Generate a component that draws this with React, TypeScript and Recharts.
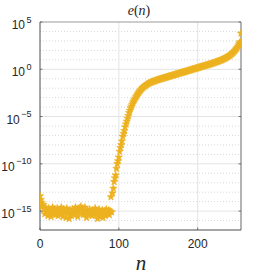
import React from "react";
import { ScatterChart, Scatter, XAxis, YAxis, ReferenceLine } from "recharts";

// log10 of e(n) for n = 0..255
const E_LOG: number[] = [
  -13.4, -13.8, -14.1, -14.5, -14.3, -14.8, -15.3, -14.6, -15.1, -14.9,
  -15.5, -14.7, -15.2, -14.9, -15.6, -15.0, -14.6, -15.3, -15.1, -14.8,
  -15.4, -15.0, -14.7, -15.5, -15.2, -14.9, -15.3, -14.6, -15.1, -15.6,
  -14.8, -15.2, -15.0, -15.7, -14.7, -15.3, -15.1, -15.8, -14.9, -15.2,
  -15.5, -14.8, -15.0, -15.4, -15.1, -14.6, -15.3, -14.9, -15.6, -15.0,
  -14.7, -15.2, -14.5, -15.1, -14.8, -15.4, -15.0, -14.6, -15.3, -15.7,
  -14.9, -15.1, -15.4, -14.8, -15.2, -15.0, -15.5, -14.9, -15.3, -15.1,
  -14.7, -15.4, -15.0, -15.8, -15.2, -14.8, -15.6, -15.1, -15.3, -14.9,
  -15.7, -15.2, -15.0, -15.5, -14.8, -15.3, -15.1, -14.9, -15.4, -15.0,
  -13.5, -15.1, -13.1, -12.6, -11.9, -11.5, -11.2, -10.5, -10.0, -9.7,
  -9.3, -8.7, -8.3, -8.0, -7.6, -7.1, -6.8, -6.5, -6.1, -5.8,
  -5.5, -5.2, -4.9, -4.6, -4.35, -4.1, -3.9, -3.7, -3.5, -3.35,
  -3.2, -3.05, -2.9, -2.75, -2.62, -2.5, -2.38, -2.27, -2.16, -2.06,
  -1.97, -1.89, -1.82, -1.75, -1.69, -1.63, -1.58, -1.53, -1.48, -1.44,
  -1.40, -1.36, -1.33, -1.30, -1.27, -1.24, -1.21, -1.18, -1.15, -1.12,
  -1.09, -1.07, -1.04, -1.02, -0.99, -0.97, -0.94, -0.92, -0.89, -0.87,
  -0.84, -0.82, -0.79, -0.77, -0.74, -0.72, -0.69, -0.67, -0.64, -0.62,
  -0.59, -0.57, -0.54, -0.52, -0.49, -0.47, -0.44, -0.42, -0.39, -0.37,
  -0.34, -0.32, -0.29, -0.27, -0.24, -0.22, -0.19, -0.17, -0.14, -0.12,
  -0.09, -0.07, -0.04, -0.02, 0.01, 0.03, 0.06, 0.08, 0.11, 0.13,
  0.16, 0.18, 0.21, 0.23, 0.26, 0.28, 0.31, 0.33, 0.36, 0.38,
  0.41, 0.43, 0.46, 0.48, 0.51, 0.53, 0.56, 0.59, 0.61, 0.64,
  0.67, 0.70, 0.73, 0.76, 0.79, 0.82, 0.85, 0.88, 0.91, 0.95,
  0.98, 1.02, 1.06, 1.10, 1.14, 1.18, 1.23, 1.28, 1.33, 1.38,
  1.44, 1.50, 1.56, 1.63, 1.70, 1.78, 1.86, 1.95, 2.05, 2.16,
  2.28, 2.42, 2.58, 2.77, 2.9, 3.8,
];

const X_TICKS = [0, 100, 200];
const Y_TICK_EXP = [-15, -10, -5, 0, 5];
const Y_MINOR_EXP = [-16, -14, -13, -12, -11, -9, -8, -7, -6, -4, -3, -2, -1, 1, 2, 3, 4];
const X_DOMAIN: [number, number] = [0, 255];
const Y_DOMAIN: [number, number] = [1e-17, 1e5];

const data = E_LOG.map((v, i) => ({ n: i, e: Math.pow(10, v) }));

const COLOR = "#EDB120";
const SANS = "'Liberation Sans', Arial, Helvetica, sans-serif";
const SERIF = "'Liberation Serif', 'Times New Roman', serif";

const StarShape = (props: any) => {
  const { cx, cy } = props;
  if (cx == null || cy == null) return null;
  const R = 3.9;
  const r = 1.6;
  const pts: string[] = [];
  for (let k = 0; k < 10; k++) {
    const a = -Math.PI / 2 + (k * Math.PI) / 5;
    const rad = k % 2 === 0 ? R : r;
    pts.push(`${(cx + rad * Math.cos(a)).toFixed(2)},${(cy + rad * Math.sin(a)).toFixed(2)}`);
  }
  return <polygon points={pts.join(" ")} fill={COLOR} stroke={COLOR} strokeWidth={0.6} />;
};

const YTick = (props: any) => {
  const { y, payload } = props;
  const exp = Math.round(Math.log10(payload.value));
  return (
    <g>
      <line x1={40} x2={42.5} y1={y} y2={y} stroke="#555" strokeWidth={0.8} />
      <line x1={238.5} x2={241} y1={y} y2={y} stroke="#555" strokeWidth={0.8} />
      <text x={31.5} y={y + 7} textAnchor="end" fontFamily={SANS} fontSize={12} fill="#262626">
        10
        <tspan dx={1.5} dy={-6.5} fontSize={9}>
          {exp < 0 ? "\u2212" + Math.abs(exp) : String(exp)}
        </tspan>
      </text>
    </g>
  );
};

const XTick = (props: any) => {
  const { x, payload } = props;
  return (
    <g>
      <line x1={x} x2={x} y1={230} y2={227.5} stroke="#555" strokeWidth={0.8} />
      <text x={x} y={248} textAnchor="middle" fontFamily={SANS} fontSize={12} fill="#262626">
        {payload.value}
      </text>
    </g>
  );
};

export default function App() {
  return (
    <div style={{ position: "absolute", left: 0, top: 0, width: 266, height: 277, background: "#fff" }}>
      <ScatterChart width={266} height={277} margin={{ top: 22, right: 25, bottom: 0, left: 0 }}>
        <XAxis
          type="number"
          dataKey="n"
          domain={X_DOMAIN}
          ticks={X_TICKS}
          height={47}
          tickLine={false}
          axisLine={{ stroke: "#4d4d4d", strokeWidth: 1 }}
          tick={<XTick />}
          allowDataOverflow
        />
        <YAxis
          type="number"
          dataKey="e"
          scale="log"
          domain={Y_DOMAIN}
          ticks={Y_TICK_EXP.map((e) => Math.pow(10, e))}
          width={40}
          tickLine={false}
          axisLine={{ stroke: "#4d4d4d", strokeWidth: 1 }}
          tick={<YTick />}
          allowDataOverflow
        />
        {Y_MINOR_EXP.map((e) => (
          <ReferenceLine key={"m" + e} y={Math.pow(10, e)} stroke="#cfcfcf" strokeDasharray="1 2" strokeWidth={0.8} ifOverflow="hidden" />
        ))}
        {Y_TICK_EXP.filter((e) => e < 5).map((e) => (
          <ReferenceLine key={"M" + e} y={Math.pow(10, e)} stroke="#e3e3e3" strokeWidth={1} />
        ))}
        {X_TICKS.filter((t) => t > 0).map((t) => (
          <ReferenceLine key={"x" + t} x={t} stroke="#e3e3e3" strokeWidth={1} />
        ))}
        <ReferenceLine y={1e5} stroke="#9a9a9a" strokeWidth={1} />
        <ReferenceLine x={255} stroke="#a0a0a0" strokeWidth={1.6} />
        <Scatter data={data} shape={<StarShape />} isAnimationActive={false} />
        <text x={139} y={15} textAnchor="middle" fontFamily={SERIF} fontSize={14} fill="#262626">
          <tspan fontStyle="italic">e</tspan>
          <tspan>(</tspan>
          <tspan fontStyle="italic">n</tspan>
          <tspan>)</tspan>
        </text>
        <text x={141} y={270} textAnchor="middle" fontFamily={SERIF} fontSize={21} fontStyle="italic" fill="#262626">
          n
        </text>
      </ScatterChart>
    </div>
  );
}
